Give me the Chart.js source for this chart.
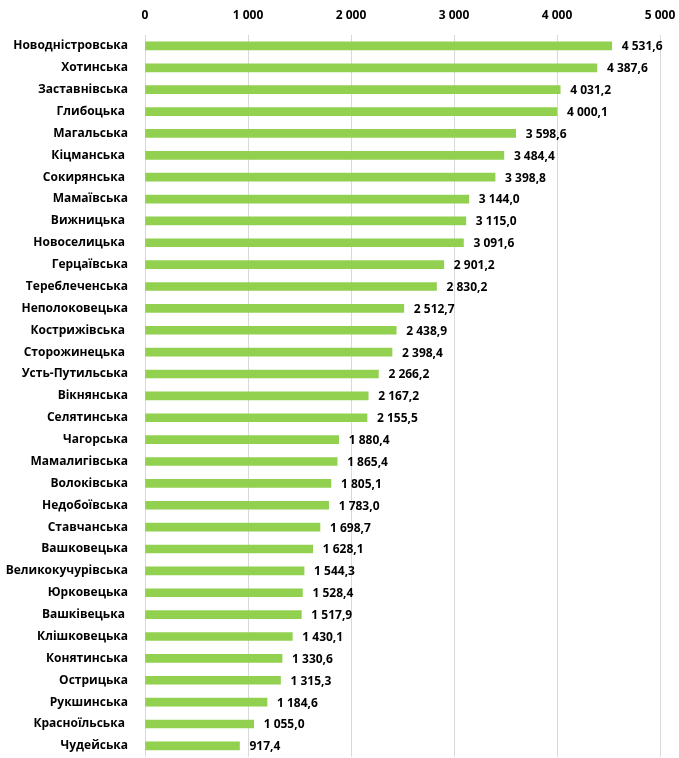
<!DOCTYPE html>
<html>
<head>
<meta charset="utf-8">
<script src="https://cdn.jsdelivr.net/npm/chart.js@4"></script>
<style>
  html, body { margin: 0; padding: 0; background: #fff; }
  #wrap { width: 679px; height: 758px; position: relative; }
</style>
</head>
<body>
<div id="wrap"><canvas id="hromadaChart"></canvas></div>
<script>
// Назви громад (деякі з пробілом у кінці, як в оригіналі)
const hromady = [
  "Новодністровська", "Хотинська", "Заставнівська", "Глибоцька ", "Магальська",
  "Кіцманська ", "Сокирянська ", "Мамаївська", "Вижницька ", "Новоселицька ",
  "Герцаївська", "Тереблеченська", "Неполоковецька", "Кострижівська ", "Сторожинецька ",
  "Усть-Путильська", "Вікнянська", "Селятинська", "Чагорська", "Мамалигівська",
  "Волоківська", "Недобоївська", "Ставчанська", "Вашковецька", "Великокучурівська",
  "Юрковецька", "Вашківецька ", "Клішковецька", "Конятинська", "Острицька",
  "Рукшинська", "Красноїльська ", "Чудейська"
];

// Значення
const values = [
  4531.6, 4387.6, 4031.2, 4000.1, 3598.6,
  3484.4, 3398.8, 3144.0, 3115.0, 3091.6,
  2901.2, 2830.2, 2512.7, 2438.9, 2398.4,
  2266.2, 2167.2, 2155.5, 1880.4, 1865.4,
  1805.1, 1783.0, 1698.7, 1628.1, 1544.3,
  1528.4, 1517.9, 1430.1, 1330.6, 1315.3,
  1184.6, 1055.0, 917.4
];

const xTicks = [0, 1000, 2000, 3000, 4000, 5000];

// Формат "4 531,6"
function fmt(v, dec) {
  const parts = v.toFixed(dec).split(".");
  const int = parts[0].replace(/\B(?=(\d{3})+(?!\d))/g, " ");
  return parts.length > 1 ? int + "," + parts[1] : int;
}

const fontFamily = "'Open Sans', 'Liberation Sans', sans-serif";

// Підписи значень праворуч від стовпців
const valueLabels = {
  id: "valueLabels",
  afterDatasetsDraw(chart) {
    const ctx = chart.ctx;
    const meta = chart.getDatasetMeta(0);
    ctx.save();
    ctx.font = "bold 12px " + fontFamily;
    ctx.fillStyle = "#000";
    ctx.textAlign = "left";
    ctx.textBaseline = "middle";
    meta.data.forEach((bar, i) => {
      ctx.fillText(fmt(values[i], 1), bar.x + 10, bar.y + 1);
    });
    ctx.restore();
  },
};

const ctx = document.getElementById("hromadaChart").getContext("2d");

new Chart(ctx, {
  type: "bar",
  data: {
    labels: hromady,
    datasets: [
      {
        data: values,
        backgroundColor: "#92D050",
        borderWidth: 0,
        barThickness: 8,
      },
    ],
  },
  options: {
    indexAxis: "y",
    responsive: true,
    maintainAspectRatio: false,
    animation: false,
    layout: { padding: { top: 0, right: 19, bottom: 1, left: 0 } },
    plugins: {
      legend: { display: false },
      tooltip: { enabled: false },
    },
    scales: {
      x: {
        position: "top",
        min: 0,
        max: 5000,
        afterBuildTicks: (scale) => {
          scale.ticks = xTicks.map((v) => ({ value: v }));
        },
        afterFit: (scale) => {
          scale.height = 35;
        },
        // відступ підписів через tickLength, щоб не роздувати padding справа
        grid: {
          color: "#d9d9d9",
          lineWidth: 1,
          drawTicks: true,
          tickLength: 12,
          tickColor: "rgba(0,0,0,0)",
        },
        border: { display: false },
        ticks: {
          padding: 0,
          color: "#000",
          font: { family: fontFamily, size: 12, weight: "bold" },
          callback: (v) => fmt(v, 0),
        },
      },
      y: {
        afterFit: (scale) => {
          scale.width = 145;
        },
        grid: { display: false, drawTicks: true, tickLength: 17 },
        border: { display: false },
        ticks: {
          padding: 0,
          color: "#000",
          autoSkip: false,
          font: { family: fontFamily, size: 12, weight: "bold", lineHeight: 0.2 },
        },
      },
    },
  },
  plugins: [valueLabels],
});
</script>
</body>
</html>
